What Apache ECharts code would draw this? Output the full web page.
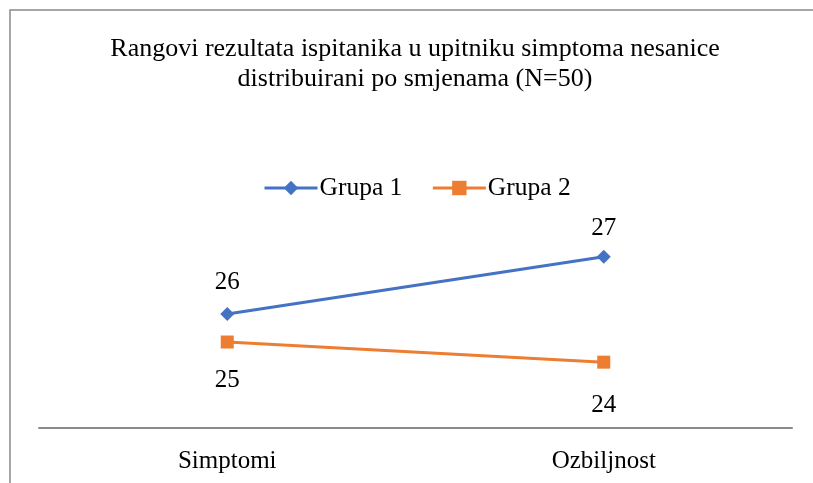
<!DOCTYPE html>
<html>
<head>
<meta charset="utf-8">
<script src="https://cdn.jsdelivr.net/npm/echarts@6/dist/echarts.min.js"></script>
<style>
html,body{margin:0;padding:0;background:#fff;}
#chart{width:813px;height:483px;}
</style>
</head>
<body>
<div id="chart"></div>
<script>
const titleLines = ['Rangovi rezultata ispitanika u upitniku simptoma nesanice', 'distribuirani po smjenama (N=50)'];
const categories = ['Simptomi', 'Ozbiljnost'];
const seriesNames = ['Grupa 1', 'Grupa 2'];
const grupa1 = [25.6, 27.42];
const grupa2 = [24.71, 24.07];

// label offsets (styling only)
const labelDist1 = [12, 9];
const labelDist2 = [19, 24];

const FONT = "'Liberation Serif', 'Times New Roman', serif";
const withDist = (vals, dists) => vals.map((v, i) => ({value: v, label: {distance: dists[i]}}));

const chart = echarts.init(document.getElementById('chart'), null, {renderer: 'canvas'});
chart.setOption({
  backgroundColor: '#ffffff',
  animation: false,
  title: {
    text: titleLines.join('\n'),
    left: 410,
    textAlign: 'center',
    top: 29,
    textStyle: {fontFamily: FONT, fontSize: 26, fontWeight: 'normal', color: '#000', lineHeight: 30}
  },
  legend: {
    data: seriesNames,
    top: 170,
    left: 258,
    itemWidth: 53,
    itemHeight: 18,
    itemGap: 29,
    lineStyle: {width: 3},
    textStyle: {fontFamily: FONT, fontSize: 25.5, color: '#000', padding: [0, 0, 0, -3]}
  },
  graphic: [{
    type: 'polyline',
    shape: {points: [[10, 490], [10, 10], [813, 10]]},
    style: {stroke: '#898989', lineWidth: 1.5, fill: null}
  }],
  grid: {left: 39, right: 21, top: 238.5, bottom: 55.7},
  xAxis: {
    type: 'category',
    data: categories,
    boundaryGap: true,
    axisLine: {lineStyle: {color: '#8a8a8a', width: 2}},
    axisTick: {show: false},
    axisLabel: {fontFamily: FONT, fontSize: 25, color: '#000', margin: 22}
  },
  yAxis: {
    type: 'value',
    min: 22,
    max: 28,
    show: false,
    splitLine: {show: false}
  },
  series: [{
    name: seriesNames[0],
    type: 'line',
    data: withDist(grupa1, labelDist1),
    symbol: 'diamond',
    symbolSize: 14,
    lineStyle: {color: '#4472C4', width: 3},
    itemStyle: {color: '#4472C4'},
    label: {show: true, position: 'top', fontFamily: FONT, fontSize: 25, color: '#000',
      formatter: p => Math.round(p.value)}
  }, {
    name: seriesNames[1],
    type: 'line',
    data: withDist(grupa2, labelDist2),
    symbol: 'rect',
    symbolSize: 13,
    lineStyle: {color: '#ED7D31', width: 3},
    itemStyle: {color: '#ED7D31'},
    label: {show: true, position: 'bottom', fontFamily: FONT, fontSize: 25, color: '#000',
      formatter: p => Math.round(p.value)}
  }]
});
</script>
</body>
</html>
